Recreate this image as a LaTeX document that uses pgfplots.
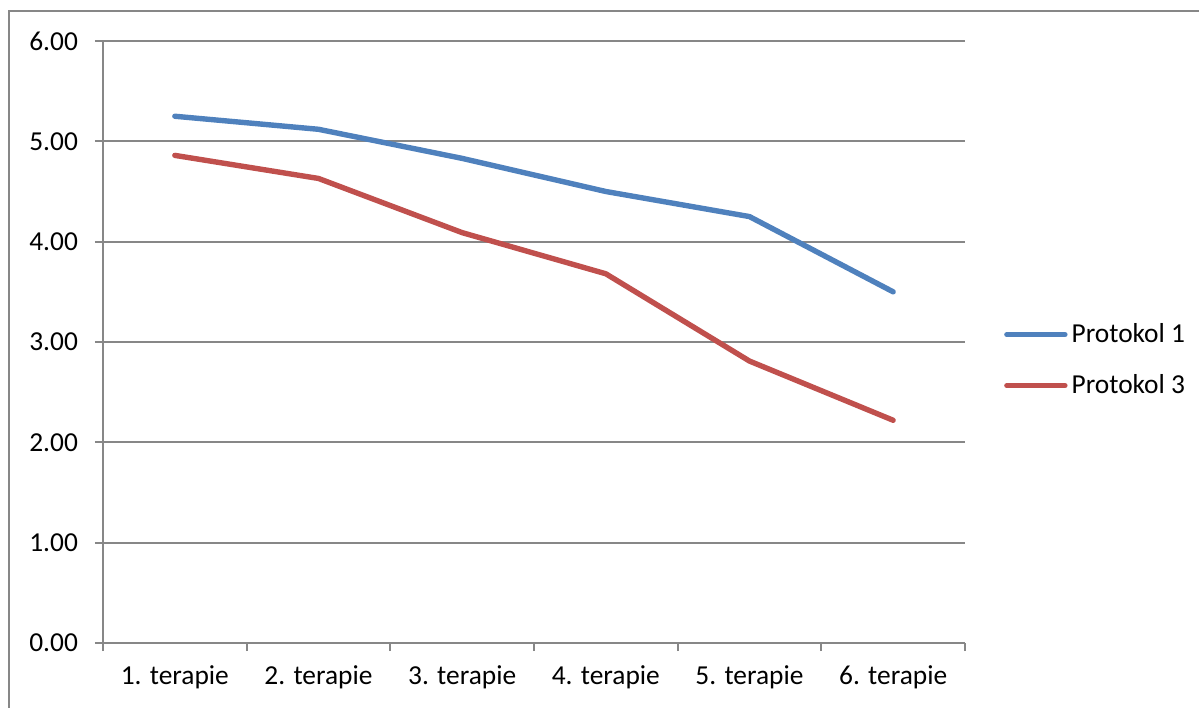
\documentclass[border=0pt]{standalone}
\usepackage{pgfplots}
\pgfplotsset{compat=1.18}
\usepackage{fontspec}
\setmainfont{Carlito}
\definecolor{pa}{HTML}{4F81BD}
\definecolor{pb}{HTML}{C0504D}
\definecolor{gr}{HTML}{878787}
\begin{document}
\begin{tikzpicture}[font=\fontsize{13.7pt}{16pt}\selectfont]
\useasboundingbox (0pt,0pt) rectangle (599.5pt,353.5pt);
\draw[gr, line width=0.9pt] (4.5pt,-5pt) -- (4.5pt,348pt) -- (610pt,348pt);
\begin{axis}[
  at={(51.5pt,32pt)}, anchor=south west,
  scale only axis, width=431pt, height=301pt,
  xmin=-0.5, xmax=5.5, ymin=0, ymax=6,
  axis lines*=left,
  axis line style={gr, line width=0.9pt},
  xtick={-0.5,0.5,1.5,2.5,3.5,4.5,5.5},
  x tick label as interval,
  xticklabels={1. terapie,2. terapie,3. terapie,4. terapie,5. terapie,6. terapie},
  ytick={0,1,2,3,4,5,6},
  ymajorgrids,
  grid style={gr, line width=0.9pt},
  tick align=outside,
  major tick length=4pt,
  tick style={gr, line width=0.9pt},
  /pgf/number format/assume math mode=true,
  yticklabel style={/tikz/xshift=-5pt, /pgf/number format/fixed, /pgf/number format/fixed zerofill, /pgf/number format/precision=2},
  xticklabel style={/tikz/yshift=-4pt},
  clip=false,
  legend style={at={(1.045,0.47)}, anchor=west, draw=none, fill=none,
    inner sep=0pt, row sep=10.5pt, font=\fontsize{13.7pt}{16pt}\selectfont},
  legend cell align=left,
  legend image code/.code={\draw[#1, line width=2.7pt, line cap=round] (0pt,0pt) -- (29pt,0pt);},
]
\addplot[pa, line width=2.7pt, line join=round, line cap=round] coordinates {(0,5.25) (1,5.12) (2,4.83) (3,4.50) (4,4.25) (5,3.50)};
\addlegendentry{Protokol 1}
\addplot[pb, line width=2.7pt, line join=round, line cap=round] coordinates {(0,4.86) (1,4.63) (2,4.09) (3,3.68) (4,2.81) (5,2.22)};
\addlegendentry{Protokol 3}
\end{axis}
\end{tikzpicture}
\end{document}
